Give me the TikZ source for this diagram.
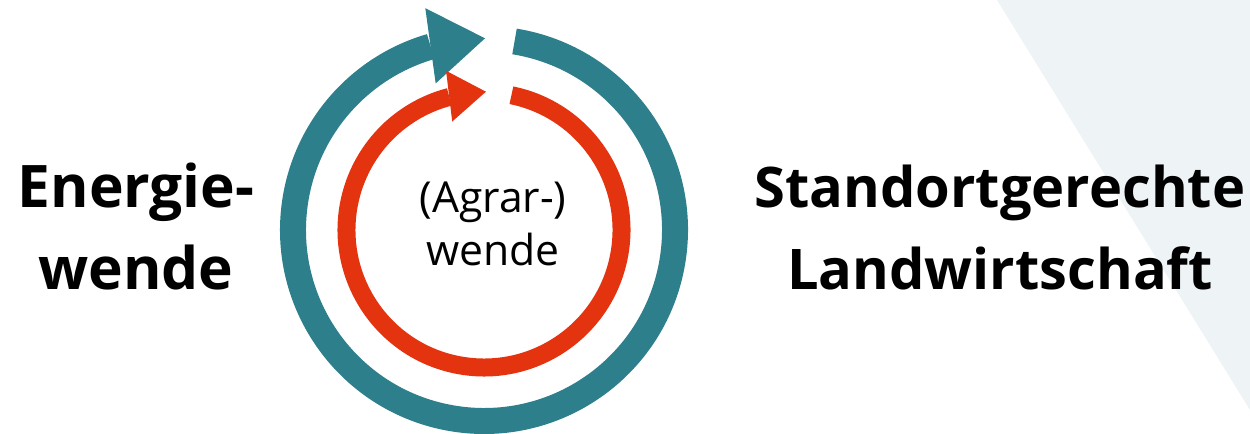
\documentclass[tikz,border=0pt]{standalone}
\usepackage{fontspec}
\setmainfont{Open Sans}
\usetikzlibrary{calc}
\definecolor{tealring}{HTML}{2D7F8C}
\definecolor{redring}{HTML}{E4330F}
\definecolor{bgtri}{HTML}{EEF3F6}
\tikzset{
  bigtext/.style={font=\bfseries\fontsize{44}{62}\selectfont, align=center, anchor=base, inner sep=0pt},
  widetext/.style={font=\bfseries\fontsize{42}{62}\selectfont, align=center, anchor=base, inner sep=0pt},
  midtext/.style={font=\fontsize{32}{40}\selectfont, align=center, anchor=base, inner sep=0pt},
}
\begin{document}
\begin{tikzpicture}[x=0.75pt,y=0.75pt]
\useasboundingbox (0,0) rectangle (1250,434);
\fill[bgtri] (997,434) -- (1250,434) -- (1250,24) -- cycle;
\coordinate (c) at (484,204);
% outer teal circular arrow
\draw[tealring, line width=19.5pt] ($(c)+(80.8:191)$) arc[start angle=80.8, end angle=-253.8, radius=191];
\coordinate (tb) at ($(c)+(106.2:191.8)$);
\coordinate (tt) at ($(c)+(89.7:191.7)$);
\fill[tealring] (tt) -- ($(tb)!0.69!90:(tt)$) -- ($(tb)!0.69!-90:(tt)$) -- cycle;
% inner red circular arrow
\draw[redring, line width=13.5pt] ($(c)+(78.5:137.5)$) arc[start angle=78.5, end angle=-255.4, radius=137.5];
\coordinate (rb) at ($(c)+(104.6:138.3)$);
\coordinate (rt) at ($(c)+(89.2:138.3)$);
\fill[redring] (rt) -- ($(rb)!0.69!90:(rt)$) -- ($(rb)!0.69!-90:(rt)$) -- cycle;
% texts
\node[bigtext] (energie) at (136,144) {Energie-\\wende};
\node[widetext] (standort) at (1000,144) {Standortgerechte\\Landwirtschaft};
\node[midtext] (agrar) at (493,168) {(Agrar-)\\wende};
\end{tikzpicture}
\end{document}
